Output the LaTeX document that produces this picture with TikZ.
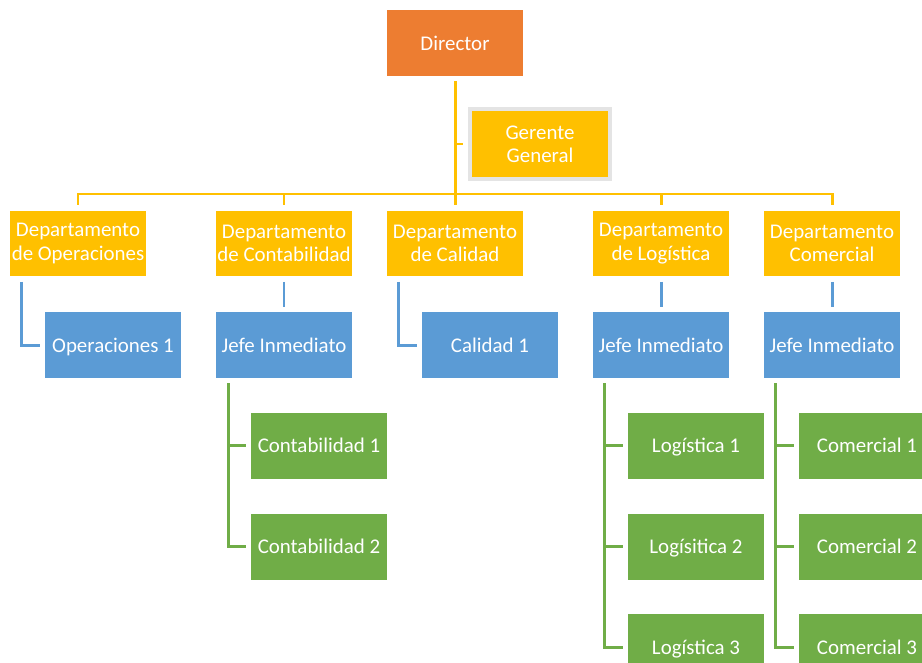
\documentclass[tikz,border=0pt]{standalone}
\usepackage{fontspec}
\setmainfont{Carlito}
\usetikzlibrary{positioning}
\definecolor{dirorange}{HTML}{ED7D31}
\definecolor{deptyellow}{HTML}{FFC000}
\definecolor{jefeblue}{HTML}{5B9BD5}
\definecolor{staffgreen}{HTML}{70AD47}
\definecolor{gerentegray}{HTML}{E4E4E4}
\tikzset{
	box/.style={rectangle, minimum width=2.72cm, minimum height=1.32cm, inner sep=0pt,
		align=center, text=white, font=\fontsize{11.9}{13.3}\selectfont},
	oneline/.style={text height=8pt, text depth=0pt},
	director/.style={box, oneline, fill=dirorange},
	manager/.style={box, fill=deptyellow, draw=gerentegray, line width=0.08cm,
		minimum width=2.8cm, minimum height=1.4cm},
	dept/.style={box, fill=deptyellow},
	jefe/.style={box, oneline, fill=jefeblue},
	staff/.style={box, oneline, fill=staffgreen},
	link/.style={line width=1.7pt, shorten >=2.8pt},
	ylink/.style={link, draw=deptyellow},
	blink/.style={link, draw=jefeblue, shorten <=2.8pt},
	glink/.style={link, draw=staffgreen, shorten <=2.8pt},
}
\begin{document}
\begin{tikzpicture}[x=0.02cm,y=-0.02cm]
\useasboundingbox (0,0) rectangle (922,662);
\clip (0,0) rectangle (922,662);
% top
\node [director] (dir) at (455,43) {Director};
\node [manager] (ger) at (540,144) {Gerente\\General};
\coordinate (bus) at (455,194);
% departments
\node [dept] (op) at (78,243.5) {Departamento\\de Operaciones};
\node [dept] (cont) at (284,243.5) {Departamento\\de Contabilidad};
\node [dept] (cal) at (455,243.5) {Departamento\\de Calidad};
\node [dept] (log) at (661,243.5) {Departamento\\de Logística};
\node [dept] (com) at (832,243.5) {Departamento\\Comercial};
% second level
\node [jefe, below=0.7cm of op, xshift=0.7cm] (op1) {Operaciones 1};
\node [jefe, below=0.7cm of cont] (jcont) {Jefe Inmediato};
\node [jefe, below=0.7cm of cal, xshift=0.7cm] (cal1) {Calidad 1};
\node [jefe, below=0.7cm of log] (jlog) {Jefe Inmediato};
\node [jefe, below=0.7cm of com] (jcom) {Jefe Inmediato};
% staff
\node [staff, below=0.68cm of jcont, xshift=0.7cm] (cont1) {Contabilidad 1};
\node [staff, below=0.68cm of cont1] (cont2) {Contabilidad 2};
\node [staff, below=0.68cm of jlog, xshift=0.7cm] (log1) {Logística 1};
\node [staff, below=0.68cm of log1] (log2) {Logísitica 2};
\node [staff, below=0.68cm of log2] (log3) {Logística 3};
\node [staff, below=0.68cm of jcom, xshift=0.7cm] (com1) {Comercial 1};
\node [staff, below=0.68cm of com1] (com2) {Comercial 2};
\node [staff, below=0.68cm of com2] (com3) {Comercial 3};
% hanging points
\coordinate (opl) at ([xshift=0.24cm]op.south west);
\coordinate (call) at ([xshift=0.24cm]cal.south west);
\coordinate (contl) at ([xshift=0.26cm]jcont.south west);
\coordinate (logl) at ([xshift=0.24cm]jlog.south west);
\coordinate (coml) at ([xshift=0.24cm]jcom.south west);
\coordinate (gg) at (dir.south |- ger.west);
% yellow links
\draw [ylink, shorten >=0pt, shorten <=2.8pt] (dir.south) -- (bus);
\draw [ylink] (gg) -- (ger.west);
\draw [ylink] (bus) -| (op.north);
\draw [ylink] (bus) -| (cont.north);
\draw [ylink] (bus) -- (cal.north);
\draw [ylink] (bus) -| (log.north);
\draw [ylink] (bus) -| (com.north);
% blue links
\draw [blink] (opl) |- (op1.west);
\draw [blink] (cont.south) -- (jcont.north);
\draw [blink] (call) |- (cal1.west);
\draw [blink] (log.south) -- (jlog.north);
\draw [blink] (com.south) -- (jcom.north);
% green links
\draw [glink] (contl) |- (cont1.west);
\draw [glink] (contl) |- (cont2.west);
\draw [glink] (logl) |- (log1.west);
\draw [glink] (logl) |- (log2.west);
\draw [glink] (logl) |- (log3.west);
\draw [glink] (coml) |- (com1.west);
\draw [glink] (coml) |- (com2.west);
\draw [glink] (coml) |- (com3.west);
\end{tikzpicture}
\end{document}
